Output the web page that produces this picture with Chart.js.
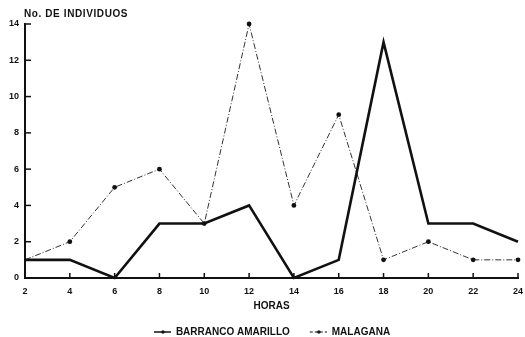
<!DOCTYPE html>
<html>
<head>
<meta charset="utf-8">
<script src="https://cdn.jsdelivr.net/npm/chart.js@4/dist/chart.umd.min.js"></script>
<style>
  html, body { margin: 0; padding: 0; background: #fff; }
  #wrap { width: 525px; height: 337px; }
</style>
</head>
<body>
<div id="wrap"><canvas id="horasChart" width="525" height="337"></canvas></div>
<script>
const horas = [2, 4, 6, 8, 10, 12, 14, 16, 18, 20, 22, 24];
const barrancoAmarillo = [1, 1, 0, 3, 3, 4, 0, 1, 13, 3, 3, 2];
const malagana = [1, 2, 5, 6, 3, 14, 4, 9, 1, 2, 1, 1];
const xTicks = [2, 4, 6, 8, 10, 12, 14, 16, 18, 20, 22, 24];
const yTicks = [0, 2, 4, 6, 8, 10, 12, 14];

Chart.defaults.font.family = '"Liberation Sans", Arial, sans-serif';
Chart.defaults.font.weight = 'bold';
Chart.defaults.font.size = 9;
Chart.defaults.color = '#111';

// legend icons: line with a dot, drawn at the right end of a wider canvas
// (the empty left part gives the gap between legend items)
function legendIcon(dash, width) {
    const c = document.createElement('canvas');
    c.width = 36; c.height = 8;
    const g = c.getContext('2d');
    g.strokeStyle = '#111';
    g.lineWidth = width;
    g.setLineDash(dash);
    g.beginPath(); g.moveTo(19, 4); g.lineTo(36, 4); g.stroke();
    g.fillStyle = '#111';
    g.beginPath(); g.arc(28, 4, 1.7, 0, Math.PI * 2); g.fill();
    return c;
}
const icons = [legendIcon([], 1.5), legendIcon([3, 2], 1)];

// inward tick marks + y title
const axisExtras = {
    id: 'axisExtras',
    afterDraw(chart) {
        const ctx = chart.ctx;
        const x = chart.scales.x, y = chart.scales.y;
        const area = chart.chartArea;
        ctx.save();
        ctx.strokeStyle = '#111';
        ctx.lineWidth = 1.5;
        xTicks.forEach(v => {
            const px = x.getPixelForValue(v);
            ctx.beginPath(); ctx.moveTo(px, area.bottom); ctx.lineTo(px, area.bottom - 5); ctx.stroke();
        });
        yTicks.forEach(v => {
            const py = y.getPixelForValue(v);
            ctx.beginPath(); ctx.moveTo(area.left, py); ctx.lineTo(area.left + 6, py); ctx.stroke();
        });
        ctx.fillStyle = '#111';
        ctx.font = 'bold 10px "Liberation Sans", Arial, sans-serif';
        ctx.letterSpacing = '0.6px';
        ctx.textBaseline = 'middle';
        ctx.fillText('No. DE INDIVIDUOS', area.left - 1, area.top - 10);
        ctx.restore();
    }
};

new Chart(document.getElementById('horasChart').getContext('2d'), {
    type: 'line',
    data: {
        labels: horas,
        datasets: [{
            label: 'BARRANCO AMARILLO',
            data: barrancoAmarillo,
            borderColor: '#111',
            borderWidth: 2.6,
            pointRadius: 0,
            tension: 0,
            clip: false
        }, {
            label: 'MALAGANA',
            data: malagana,
            borderColor: '#333',
            borderWidth: 1,
            borderDash: [6, 2, 1, 2],
            pointRadius: ctx => ctx.dataIndex === 0 ? 0 : 2.4,
            pointBackgroundColor: '#111',
            pointBorderWidth: 0,
            tension: 0,
            clip: false
        }]
    },
    options: {
        responsive: false,
        animation: false,
        layout: { padding: { left: 0, right: 0, top: 24, bottom: 0 } },
        scales: {
            x: {
                type: 'linear',
                min: 2, max: 24,
                afterBuildTicks: s => { s.ticks = xTicks.map(v => ({ value: v })); },
                afterFit: s => { s.height = 48; s.paddingRight = 7; },
                grid: { display: false, drawTicks: false },
                border: { color: '#111', width: 2 },
                ticks: { padding: 8 },
                title: { display: true, text: 'HORAS', font: { size: 10 }, padding: { top: 0, bottom: 14 } }
            },
            y: {
                min: 0, max: 14,
                afterBuildTicks: s => { s.ticks = yTicks.map(v => ({ value: v })); },
                afterFit: s => { s.width = 25; },
                grid: { display: false, drawTicks: false },
                border: { color: '#111', width: 2 },
                ticks: { padding: 6 }
            }
        },
        plugins: {
            legend: {
                position: 'bottom',
                maxHeight: 11,
                labels: {
                    usePointStyle: true,
                    pointStyleWidth: 36,
                    padding: 1,
                    boxHeight: 10,
                    font: { size: 10 },
                    generateLabels: chart => {
                        const items = Chart.defaults.plugins.legend.labels.generateLabels(chart);
                        items.forEach((it, i) => { it.pointStyle = icons[i]; });
                        return items;
                    }
                }
            },
            tooltip: { enabled: false }
        }
    },
    plugins: [axisExtras]
});
</script>
</body>
</html>
